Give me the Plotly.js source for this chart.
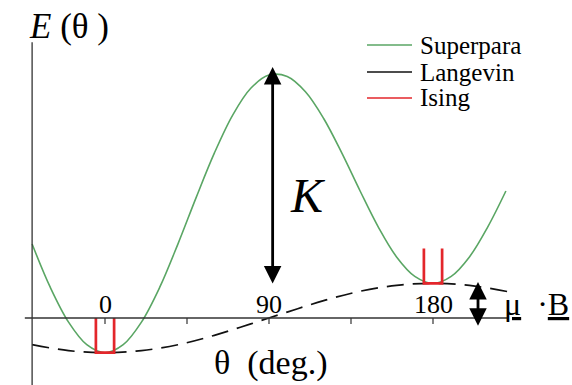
<!DOCTYPE html>
<html>
<head>
<meta charset="utf-8">
<script src="https://cdn.plot.ly/plotly-3.0.1.min.js"></script>
<style>
  html, body { margin: 0; padding: 0; background: #fff; }
  #chart { width: 572px; height: 385px; }
</style>
</head>
<body>
<div id="chart"></div>
<script>
// Rotation angle of the moment, degrees
const superparaTheta = [-40, -30, -20, -10, 0, 10, 20, 30, 40, 50, 60, 70, 80, 90,
                        100, 110, 120, 130, 140, 150, 160, 170, 180, 190, 200, 210, 220];
// Energy of the superparamagnetic particle (units of mu*B)
const superparaEnergy = [2.13, 0.88, -0.12, -0.77, -1.00, -0.77, -0.12, 0.88, 2.13, 3.47,
                         4.75, 5.84, 6.62, 7.00, 6.96, 6.52, 5.75, 4.75, 3.66, 2.62,
                         1.76, 1.20, 1.00, 1.20, 1.76, 2.62, 3.66];

// Free (Langevin) moment: only the Zeeman term
const langevinTheta = [-40, -20, 0, 20, 40, 60, 80, 100, 120, 140, 160, 180, 200, 221];
const langevinEnergy = [-0.77, -0.94, -1.00, -0.94, -0.77, -0.50, -0.17, 0.17, 0.50,
                        0.77, 0.94, 1.00, 0.94, 0.76];

// Ising moment: two narrow wells, at 0 and 180 degrees
const isingTheta = [-5, -5, 5, 5, null, 175, 175, 185, 185];
const isingEnergy = [0, -1, -1, 0, null, 2, 1, 1, 2];

// Axis ticks and their labels
const tickValues = [0, 45, 90, 135, 180];
const tickLabels = ['0', '90', '180'];
const tickLabelValues = [0, 90, 180];

// Legend entries
const seriesNames = ['Superpara', 'Langevin', 'Ising'];
const seriesColors = ['#5aa664', '#111111', '#e3262b'];

// Arrows: anisotropy barrier K and Zeeman splitting mu*B
const barrierArrow = { theta: 92, top: 7.23, bottom: 0.95 };
const zeemanArrow = { theta: 204.7, top: 1.04, bottom: -0.27 };

const serif = '"Liberation Serif", "Times New Roman", Times, serif';

const traces = [
  {
    x: superparaTheta, y: superparaEnergy, type: 'scatter', mode: 'lines',
    name: seriesNames[0], line: { color: seriesColors[0], width: 1.6, shape: 'spline', smoothing: 1 },
    showlegend: false, hoverinfo: 'skip'
  },
  {
    x: langevinTheta, y: langevinEnergy, type: 'scatter', mode: 'lines',
    name: seriesNames[1], line: { color: seriesColors[1], width: 1.7, dash: '17px,9px', shape: 'spline', smoothing: 1 },
    showlegend: false, hoverinfo: 'skip'
  },
  {
    x: isingTheta, y: isingEnergy, type: 'scatter', mode: 'lines',
    name: seriesNames[2], line: { color: seriesColors[2], width: 2.7 },
    connectgaps: false, showlegend: false, hoverinfo: 'skip'
  }
];

const shapes = [];
const annotations = [];

// horizontal axis line at E = 0
shapes.push({ type: 'line', xref: 'x', yref: 'y', x0: -44, x1: 221.5, y0: 0, y1: 0,
              line: { color: '#333', width: 1.3 } });
// vertical axis line
shapes.push({ type: 'line', xref: 'x', yref: 'y', x0: -40, x1: -40, y0: 7.95, y1: -2.5,
              line: { color: '#333', width: 1.3 } });
// small tick marks below the axis
tickValues.forEach(v => {
  shapes.push({ type: 'line', xref: 'x', yref: 'y', x0: v, x1: v, y0: 0, y1: -0.17,
                line: { color: '#333', width: 1.2 } });
});
tickLabelValues.forEach((v, i) => {
  annotations.push({ x: v, y: 0, xref: 'x', yref: 'y', text: tickLabels[i], showarrow: false,
                     yanchor: 'bottom', yshift: -3, font: { family: serif, size: 26, color: '#000' } });
});

// axis titles
annotations.push({ x: 91, y: -1.3, xref: 'x', yref: 'y', text: 'θ  (deg.)', showarrow: false,
                   font: { family: serif, size: 34, color: '#000' } });
annotations.push({ x: 27 / 572, y: 1 - 26 / 385, xref: 'paper', yref: 'paper', xanchor: 'left',
                   yanchor: 'middle', text: '<i>E</i> (θ )', showarrow: false,
                   font: { family: serif, size: 35, color: '#000' } });

// double-headed arrows
[barrierArrow, zeemanArrow].forEach(a => {
  annotations.push({ x: a.theta, y: a.top, ax: a.theta, ay: a.bottom, xref: 'x', yref: 'y',
                     axref: 'x', ayref: 'y', text: '', showarrow: true, arrowside: 'end+start',
                     arrowhead: 2, startarrowhead: 2, arrowsize: 1.25, startarrowsize: 1.25,
                     arrowwidth: 2.8, arrowcolor: '#000', standoff: 0, startstandoff: 0 });
});
annotations.push({ x: 111.5, y: 3.52, xref: 'x', yref: 'y', text: '<i>K</i>', showarrow: false,
                   font: { family: serif, size: 48, color: '#000' } });
annotations.push({ x: 218, y: 0.4, xref: 'x', yref: 'y', xanchor: 'left',
                   text: '<u>μ</u>\u00a0\u00a0·<u>B</u>',
                   showarrow: false, font: { family: serif, size: 32, color: '#000' } });

// legend: sample line and label for each series
const legendRows = [45, 72, 98];
seriesNames.forEach((name, i) => {
  const yp = 1 - legendRows[i] / 385;
  shapes.push({ type: 'line', xref: 'paper', yref: 'paper', x0: 367 / 572, x1: 412 / 572, y0: yp, y1: yp,
                line: { color: seriesColors[i], width: 1.6 } });
  annotations.push({ x: 418 / 572, y: yp, xref: 'paper', yref: 'paper', xanchor: 'left', yanchor: 'middle',
                     text: name, showarrow: false, font: { family: serif, size: 25, color: '#000' } });
});

const layout = {
  width: 572, height: 385,
  margin: { l: 0, r: 0, t: 0, b: 0 },
  paper_bgcolor: '#fff', plot_bgcolor: '#fff',
  showlegend: false,
  xaxis: { range: [-57.62, 256.28], visible: false, fixedrange: true },
  yaxis: { range: [-1.931, 9.164], visible: false, fixedrange: true },
  shapes: shapes,
  annotations: annotations
};

Plotly.newPlot('chart', traces, layout, { staticPlot: true, displayModeBar: false });
</script>
</body>
</html>
